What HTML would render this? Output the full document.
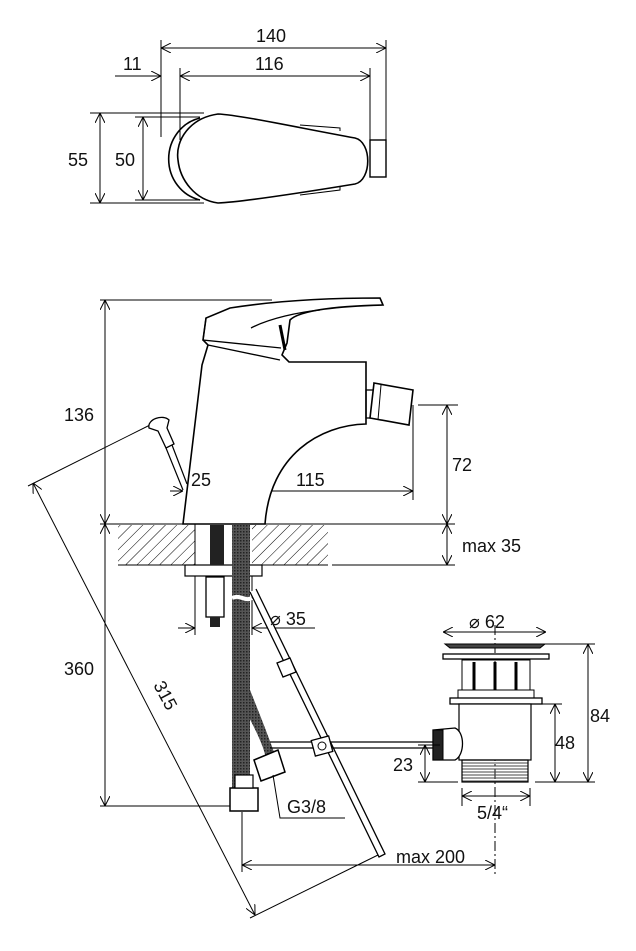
<!DOCTYPE html>
<html><head><style>html,body{margin:0;padding:0;background:#fff}svg{display:block}text{font-family:"Liberation Sans",sans-serif;font-size:18px;fill:#111}</style></head><body>
<svg width="636" height="951" viewBox="0 0 636 951" xmlns="http://www.w3.org/2000/svg">
<defs>
<marker id="a" viewBox="0 0 10 10" refX="10" refY="5" markerWidth="10" markerHeight="10" orient="auto-start-reverse" markerUnits="userSpaceOnUse"><path d="M0,0 L10,5 L0,10" fill="none" stroke="#000" stroke-width="1"/></marker>
<pattern id="h" width="8" height="8" patternUnits="userSpaceOnUse" patternTransform="rotate(45)"><line x1="0" y1="0" x2="0" y2="8" stroke="#000" stroke-width="1"/></pattern>
<pattern id="t" width="4" height="3" patternUnits="userSpaceOnUse"><line x1="0" y1="1" x2="4" y2="1" stroke="#444" stroke-width="1"/></pattern>
<pattern id="m" width="3" height="3" patternUnits="userSpaceOnUse"><rect width="3" height="3" fill="#555"/><rect width="1.5" height="1.5" fill="#222"/></pattern>
</defs>
<g stroke="#000" stroke-width="1" fill="none">
<line x1="161" y1="48" x2="386" y2="48" marker-start="url(#a)" marker-end="url(#a)"/>
<line x1="180" y1="76" x2="370" y2="76" marker-start="url(#a)" marker-end="url(#a)"/>
<line x1="115" y1="76" x2="161" y2="76" marker-end="url(#a)"/>
<line x1="161" y1="40" x2="161" y2="137"/><line x1="180" y1="68" x2="180" y2="140"/>
<line x1="370" y1="68" x2="370" y2="140"/><line x1="386" y1="40" x2="386" y2="140"/>
<line x1="100" y1="113" x2="100" y2="203" marker-start="url(#a)" marker-end="url(#a)"/>
<line x1="143" y1="117" x2="143" y2="200" marker-start="url(#a)" marker-end="url(#a)"/>
<line x1="90" y1="113" x2="204" y2="113"/><line x1="90" y1="203" x2="204" y2="203"/>
<line x1="135" y1="117" x2="200" y2="117"/><line x1="135" y1="200" x2="200" y2="200"/>
<path d="M200,118 A40,42 0 0 0 200,200" stroke-width="1.6"/>
<path d="M218,114 C190,118 175,140 178,160 C180,180 195,200 218,203 C240,202 300,193 355,184 C372,180 372,142 355,138 C300,128 240,115 218,114 Z" stroke-width="1.6"/>
<path d="M300,125 L340,128 L340,131 M300,195 L340,190 L340,187" stroke-width="1"/>
<rect x="370" y="140" width="16" height="37" stroke-width="1.4"/>
<line x1="100" y1="300" x2="272" y2="300"/>
<line x1="105" y1="300" x2="105" y2="524" marker-start="url(#a)" marker-end="url(#a)"/>
<line x1="105" y1="524" x2="105" y2="806" marker-start="url(#a)" marker-end="url(#a)"/>
<line x1="100" y1="806" x2="240" y2="806"/>
<line x1="100" y1="524" x2="455" y2="524"/>
<line x1="332" y1="565" x2="455" y2="565"/>
<line x1="447" y1="524" x2="447" y2="565" marker-start="url(#a)" marker-end="url(#a)"/>
<line x1="447" y1="405" x2="447" y2="524" marker-start="url(#a)" marker-end="url(#a)"/>
<line x1="418" y1="405" x2="458" y2="405"/>
<line x1="413" y1="405" x2="413" y2="500"/>
<line x1="170" y1="491" x2="183" y2="491" marker-end="url(#a)"/>
<line x1="222" y1="491" x2="413" y2="491" marker-start="url(#a)" marker-end="url(#a)"/>
<line x1="222" y1="483" x2="222" y2="524"/>
<line x1="33" y1="483" x2="255" y2="915" marker-start="url(#a)" marker-end="url(#a)"/>
<line x1="28" y1="486" x2="150" y2="425"/>
<line x1="250" y1="918" x2="378" y2="855"/>
<rect x="118" y="525" width="77" height="40" fill="url(#h)" stroke="none"/>
<rect x="252" y="525" width="76" height="40" fill="url(#h)" stroke="none"/>
<line x1="118" y1="565" x2="195" y2="565"/><line x1="252" y1="565" x2="328" y2="565"/>
<line x1="195" y1="524" x2="195" y2="635"/><line x1="252" y1="565" x2="252" y2="635"/>
<path d="M183,524 L202,365 L208,345 L203,340 L206,318 L230,308 C280,300 330,298 380,298 L383,305 C340,306 300,310 290,320 L287,343 L282,355 L289,362 L366,362 L366,378 L366,424 C320,425 270,455 265,524 Z" fill="#fff" stroke-width="1.6"/>
<path d="M208,345 L280,360 M206,318 L203,340 L281,348 M251,328 C270,318 300,312 320,310" stroke-width="1.3"/>
<path d="M280,325 L285,350" stroke-width="3"/>
<rect x="366" y="390" width="8" height="28" stroke-width="1.3"/>
<path d="M374,383 L413,390 L409,425 L370,418 Z" fill="#fff" stroke-width="1.6"/>
<line x1="381" y1="385" x2="378" y2="420"/>
<path d="M149,428 C147,419 163,414 169,420 L167,428 L174,444 L166,448 L158,431 Z" fill="#fff" stroke-width="1.3"/>
<path d="M166,448 L183,490 M172,445 L187,484" stroke-width="1.2"/>
<rect x="185" y="565" width="77" height="11" fill="#fff" stroke-width="1.2"/>
<rect x="210" y="525" width="14" height="40" fill="#222" stroke="none"/>
<rect x="232" y="525" width="18" height="265" fill="url(#m)" stroke="none"/>
<path d="M240,700 C250,720 262,740 266,758 L275,755 C268,735 258,710 250,690 Z" fill="url(#m)" stroke="none"/>
<rect x="206" y="577" width="18" height="40" fill="#fff" stroke-width="1.3"/>
<rect x="210" y="617" width="10" height="10" fill="#222" stroke="none"/>
<rect x="230" y="788" width="28" height="23" fill="#fff" stroke-width="1.5"/>
<rect x="235" y="775" width="18" height="13" fill="#fff" stroke-width="1.2"/>
<path d="M254,760 L278,750 L285,772 L261,781 Z" fill="#fff" stroke-width="1.5"/>
<path d="M232,598 C240,594 245,602 252,598" stroke="#fff" stroke-width="4"/>
<line x1="178" y1="628" x2="195" y2="628" marker-end="url(#a)"/>
<line x1="252" y1="628" x2="315" y2="628" marker-start="url(#a)"/>
<path d="M250,592 L379,857 L385,854 L256,589" fill="#fff" stroke-width="1.3"/>
<path d="M277,663 L290,658 L296,672 L283,677 Z" fill="#fff" stroke-width="1.3"/>
<line x1="270" y1="742" x2="445" y2="742" stroke-width="1.3"/><line x1="270" y1="748" x2="445" y2="748" stroke-width="1.3"/>
<rect x="313" y="738" width="18" height="16" fill="#fff" stroke-width="1.3" transform="rotate(-15 322 746)"/>
<circle cx="322" cy="746" r="4"/>
<polyline points="273,775 280,818 345,818"/>
<line x1="495" y1="625" x2="495" y2="875" stroke-dasharray="10,3,2,3"/>
<line x1="443" y1="632" x2="546" y2="632" marker-start="url(#a)" marker-end="url(#a)"/>
<path d="M445,644 L545,644 L540,648 L450,648 Z" fill="#444" stroke-width="1"/>
<rect x="443" y="654" width="106" height="5" fill="#fff" stroke-width="1.3"/>
<rect x="462" y="660" width="68" height="30"/>
<line x1="474" y1="662" x2="474" y2="690" stroke-width="3"/><line x1="495" y1="662" x2="495" y2="690" stroke-width="3"/><line x1="516" y1="662" x2="516" y2="690" stroke-width="3"/>
<rect x="458" y="690" width="76" height="8" fill="#fff"/>
<rect x="450" y="698" width="92" height="6" fill="#fff" stroke-width="1.3"/>
<rect x="459" y="704" width="72" height="56" fill="#fff" stroke-width="1.2"/>
<rect x="462" y="760" width="66" height="22" fill="url(#t)" stroke-width="1.2"/>
<path d="M433,730 L455,728 C465,732 465,755 455,760 L433,760 Z" fill="#fff" stroke-width="1.3"/>
<rect x="433" y="730" width="10" height="30" fill="#222"/>
<line x1="520" y1="644" x2="595" y2="644"/><line x1="535" y1="782" x2="595" y2="782"/>
<line x1="588" y1="644" x2="588" y2="782" marker-start="url(#a)" marker-end="url(#a)"/>
<line x1="530" y1="704" x2="562" y2="704"/>
<line x1="555" y1="704" x2="555" y2="782" marker-start="url(#a)" marker-end="url(#a)"/>
<line x1="418" y1="745" x2="440" y2="745"/><line x1="418" y1="782" x2="458" y2="782"/>
<line x1="425" y1="745" x2="425" y2="782" marker-start="url(#a)" marker-end="url(#a)"/>
<line x1="462" y1="788" x2="462" y2="806"/><line x1="530" y1="788" x2="530" y2="806"/>
<line x1="462" y1="796" x2="530" y2="796" marker-start="url(#a)" marker-end="url(#a)"/>
<line x1="242" y1="812" x2="242" y2="872"/>
<line x1="242" y1="865" x2="495" y2="865" marker-start="url(#a)" marker-end="url(#a)"/>
</g>
<text x="256" y="42">140</text>
<text x="255" y="70">116</text>
<text x="123" y="70">11</text>
<text x="68" y="166">55</text>
<text x="115" y="166">50</text>
<text x="64" y="421">136</text>
<text x="64" y="675">360</text>
<text x="191" y="486">25</text>
<text x="296" y="486">115</text>
<text x="452" y="471">72</text>
<text x="462" y="552">max 35</text>
<text x="270" y="625">⌀ 35</text>
<text x="469" y="628">⌀ 62</text>
<text x="590" y="722">84</text>
<text x="555" y="749">48</text>
<text x="393" y="771">23</text>
<text x="477" y="819">5/4“</text>
<text x="287" y="813">G3/8</text>
<text x="396" y="863">max 200</text>
<text x="0" y="0" transform="translate(153,685) rotate(62)">315</text>
</svg>
</body></html>
